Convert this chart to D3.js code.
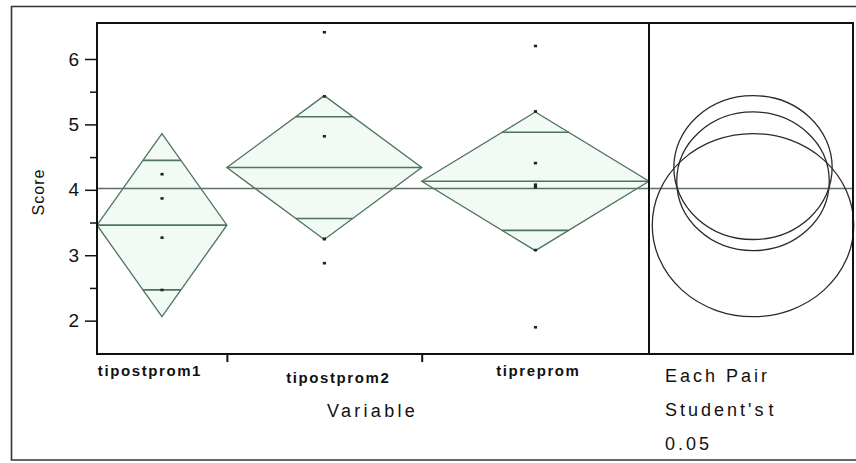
<!DOCTYPE html>
<html>
<head>
<meta charset="utf-8">
<script src="https://cdn.jsdelivr.net/npm/d3@7"></script>
<style>
  html, body { margin: 0; padding: 0; background: #ffffff; }
  svg { display: block; }
  text { font-family: "Liberation Sans", Arial, sans-serif; fill: #111; }
</style>
</head>
<body>
<svg id="chart" width="856" height="463"></svg>
<script>
// Oneway analysis of Score by Variable: means diamonds and comparison circles
const categories = ["tipostprom1", "tipostprom2", "tipreprom"];
const groupMeans = [3.46, 4.34, 4.13];
const ciHalfWidths = [1.40, 1.10, 1.06];
const grandMean = 4.02;
const pointsPostprom1 = [4.24, 3.87, 3.27, 2.47];
const pointsPostprom2 = [6.41, 5.43, 4.82, 3.25, 3.25, 2.88];
const pointsPreprom = [6.20, 5.20, 4.41, 4.04, 4.08, 3.08, 1.90];
const yTicks = [2, 3, 4, 5, 6];
const yMinorTicks = [2.5, 3.5, 4.5, 5.5];
const circleLegend = ["Each Pair", "Student's t", "0.05"];

const groupPoints = [pointsPostprom1, pointsPostprom2, pointsPreprom];
const counts = groupPoints.map(p => p.length);
const cum = [0];
counts.forEach(n => cum.push(cum[cum.length - 1] + n));
const totalN = cum[cum.length - 1];

const svg = d3.select("#chart");

const plot = { left: 97, right: 649, top: 23, bottom: 354 };
const panel = { left: 649, right: 853 };

// group widths along x are proportional to the group sizes
const x = d3.scaleLinear().domain([0, totalN]).range([plot.left, plot.right]);
const y = d3.scaleLinear().domain([1.49, 6.55]).range([plot.bottom, plot.top]);

const lineGreen = "#4f735e";

// outer report frame
svg.append("path")
  .attr("d", "M856,6.5 H11.5 V460 H856")
  .attr("fill", "none").attr("stroke", "#333").attr("stroke-width", 1.6);

// diamonds
const groups = categories.map((c, i) => ({
  name: c, mean: groupMeans[i], ci: ciHalfWidths[i],
  x0: x(cum[i]), x1: x(cum[i + 1]), xc: (x(cum[i]) + x(cum[i + 1])) / 2,
  pts: groupPoints[i]
}));

const gD = svg.append("g");
groups.forEach(g => {
  const ym = y(g.mean), yt = y(g.mean + g.ci), yb = y(g.mean - g.ci);
  gD.append("path")
    .attr("d", `M${g.x0},${ym} L${g.xc},${yt} L${g.x1},${ym} L${g.xc},${yb} Z`)
    .attr("fill", "#f2faf5").attr("stroke", lineGreen).attr("stroke-width", 1.3);
  // mean line across the group
  gD.append("line").attr("x1", g.x0).attr("x2", g.x1).attr("y1", ym).attr("y2", ym)
    .attr("stroke", lineGreen).attr("stroke-width", 1.6);
  // overlap marks at mean ± ci/√2, spanning the diamond interior
  const half = (g.x1 - g.x0) / 2;
  const frac = 1 - 1 / Math.SQRT2;
  [1, -1].forEach(s => {
    const yo = y(g.mean + s * g.ci / Math.SQRT2);
    gD.append("line")
      .attr("x1", g.xc - half * frac).attr("x2", g.xc + half * frac)
      .attr("y1", yo).attr("y2", yo)
      .attr("stroke", lineGreen).attr("stroke-width", 1.6);
  });
});

// grand mean line, running through the circle panel
svg.append("line")
  .attr("x1", plot.left).attr("x2", panel.right)
  .attr("y1", y(grandMean)).attr("y2", y(grandMean))
  .attr("stroke", "#5f6f66").attr("stroke-width", 1.4);

// data points
groups.forEach(g => {
  svg.append("g").selectAll("rect").data(g.pts).join("rect")
    .attr("x", g.xc - 1.5).attr("y", d => y(d) - 1.2)
    .attr("width", 3.2).attr("height", 2.6)
    .attr("fill", "#222");
});

// comparison circles (drawn with the horizontal stretch of the report)
const cx = (panel.left + panel.right) / 2 + 2;
const unit = y(0) - y(1);
svg.append("g").selectAll("ellipse").data(groups).join("ellipse")
  .attr("cx", cx).attr("cy", d => y(d.mean))
  .attr("ry", d => d.ci * unit).attr("rx", d => d.ci * unit * 1.1)
  .attr("fill", "none").attr("stroke", "#2a2a2a").attr("stroke-width", 1.3);

// plot frames
svg.append("rect")
  .attr("x", plot.left).attr("y", plot.top)
  .attr("width", plot.right - plot.left).attr("height", plot.bottom - plot.top)
  .attr("fill", "none").attr("stroke", "#111").attr("stroke-width", 2);
svg.append("rect")
  .attr("x", panel.left).attr("y", plot.top)
  .attr("width", panel.right - panel.left).attr("height", plot.bottom - plot.top)
  .attr("fill", "none").attr("stroke", "#111").attr("stroke-width", 2);

// y axis
const yAxis = svg.append("g").attr("transform", `translate(${plot.left},0)`)
  .call(d3.axisLeft(y).tickValues(yTicks).tickSize(12).tickPadding(6).tickFormat(d3.format("d")));
yAxis.select(".domain").remove();
yAxis.selectAll("line").attr("stroke", "#111").attr("stroke-width", 1.5);
yAxis.selectAll("text").attr("font-size", 19).attr("font-family", "Liberation Sans, Arial, sans-serif").attr("fill", "#111");

const yMinor = svg.append("g").attr("transform", `translate(${plot.left},0)`)
  .call(d3.axisLeft(y).tickValues(yMinorTicks).tickSize(7).tickFormat(""));
yMinor.select(".domain").remove();
yMinor.selectAll("line").attr("stroke", "#111").attr("stroke-width", 1.5);

svg.append("text")
  .attr("transform", "translate(44,192) rotate(-90)")
  .attr("text-anchor", "middle")
  .attr("font-size", 16).attr("letter-spacing", 1)
  .text("Score");

// x axis: boundaries between groups
const xAxis = svg.append("g").attr("transform", `translate(0,${plot.bottom})`)
  .call(d3.axisBottom(x).tickValues(cum.slice(1, -1)).tickSize(8).tickFormat(""));
xAxis.select(".domain").remove();
xAxis.selectAll("line").attr("stroke", "#111").attr("stroke-width", 2);

const labelShift = [[-12, 376], [14, 383], [3, 376]];
svg.append("g").selectAll("text").data(groups).join("text")
  .attr("x", (d, i) => d.xc + labelShift[i][0])
  .attr("y", (d, i) => labelShift[i][1])
  .attr("text-anchor", "middle")
  .attr("font-size", 15).attr("font-weight", "bold").attr("letter-spacing", 1.6)
  .attr("fill", "#2a2a2a")
  .text(d => d.name);

svg.append("text")
  .attr("x", 327).attr("y", 417)
  .attr("font-size", 18).attr("letter-spacing", 3.3)
  .text("Variable");

// comparison circle settings
svg.append("g").selectAll("text").data(circleLegend).join("text")
  .attr("x", 665).attr("y", (d, i) => 382 + i * 34)
  .attr("font-size", 18).attr("letter-spacing", 3)
  .attr("word-spacing", (d, i) => i === 1 ? -6 : 0)
  .text(d => d);
</script>
</body>
</html>
